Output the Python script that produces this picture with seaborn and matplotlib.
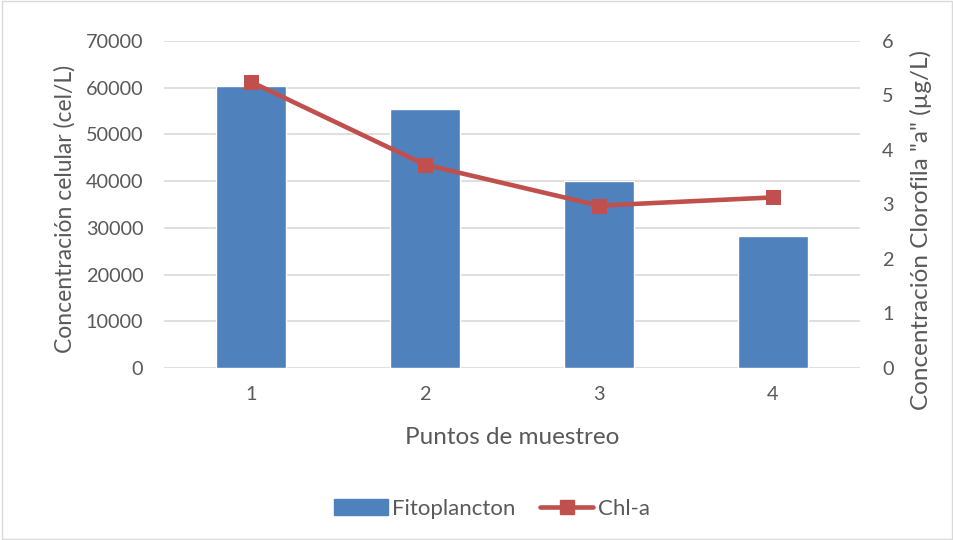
import matplotlib
matplotlib.use("Agg")
import matplotlib.pyplot as plt
import seaborn as sns
import numpy as np
import pandas as pd
from matplotlib.lines import Line2D
from matplotlib.patches import Patch, Rectangle

categories = ["1", "2", "3", "4"]
fitoplancton = [60300, 55400, 40000, 28200]
chl_a = [5.25, 3.73, 2.98, 3.13]
left_ticks = [0, 10000, 20000, 30000, 40000, 50000, 60000, 70000]
right_ticks = [0, 1, 2, 3, 4, 5, 6]

sns.set_theme(style="white")
plt.rcParams['font.family'] = ['Lato', 'DejaVu Sans']
TXT = "#595959"
GRID = "#D9D9D9"
BLUE = "#4F81BD"
RED = "#C0504D"

df = pd.DataFrame({"Punto": categories, "Fitoplancton": fitoplancton, "Chl": chl_a})

W, H = 954, 540
L, R, T, B = 164, 860, 41, 368
fig = plt.figure(figsize=(9.54, 5.4), dpi=100)
ax = fig.add_axes([L/W, 1-B/H, (R-L)/W, (B-T)/H])

sns.barplot(data=df, x="Punto", y="Fitoplancton", color=BLUE, saturation=1,
            width=0.4, ax=ax, zorder=2)
ax.set_ylim(0, 70000)
ax.set_yticks(left_ticks)
ax.set_yticklabels([str(t) for t in left_ticks])
ax.set_xlim(-0.5, 3.5)
ax.yaxis.grid(True, color=GRID, linewidth=1.2, zorder=0)
ax.set_axisbelow(True)
for s in ax.spines.values():
    s.set_visible(False)
ax.tick_params(axis='both', length=0, labelsize=14.3, labelcolor=TXT)
ax.tick_params(axis='y', pad=15)
ax.tick_params(axis='x', pad=13)
ax.set_xlabel("Puntos de muestreo", fontsize=17.5, color=TXT)
ax.set_ylabel("Concentración celular (cel/L)", fontsize=16.5, color=TXT)
ax.xaxis.set_label_coords(0.5, (B-438)/(B-T))
ax.xaxis.label.set_verticalalignment('center')
ax.yaxis.set_label_coords((65-L)/(R-L), (B-209)/(B-T))
ax.yaxis.label.set_verticalalignment('center')

ax2 = ax.twinx()
sns.lineplot(x=np.arange(len(categories)), y=df["Chl"], ax=ax2, color=RED,
             linewidth=3.3, marker="s", markersize=10.5, markeredgecolor=RED,
             markerfacecolor=RED)
ax2.set_ylim(0, 6)
ax2.set_yticks(right_ticks)
ax2.set_yticklabels([str(t) for t in right_ticks])
ax2.set_xlim(-0.5, 3.5)
for s in ax2.spines.values():
    s.set_visible(False)
ax2.grid(False)
ax2.tick_params(axis='y', length=0, labelsize=14.3, labelcolor=TXT, pad=16)
ax2.set_ylabel('Concentración Clorofila "a" (µg/L)', fontsize=17.5, color=TXT)
ax2.yaxis.set_label_coords((921-L)/(R-L), (B-230)/(B-T))
ax2.yaxis.label.set_verticalalignment('center')

handles = [Patch(facecolor=BLUE, edgecolor=BLUE),
           Line2D([0], [0], color=RED, linewidth=3.3, marker="s", markersize=10.5)]
fig.legend(handles, ["Fitoplancton", "Chl-a"], loc="center",
           bbox_to_anchor=(492/W, 1-509/H),
           ncol=2, frameon=False, fontsize=16, labelcolor=TXT, handlelength=2.4,
           columnspacing=1.1, handletextpad=0.2)

fig.patches.append(Rectangle((0.002, 0.002), 0.996, 0.996, transform=fig.transFigure,
                             fill=False, edgecolor=GRID, linewidth=1))

fig.savefig("out.png", dpi=100)
